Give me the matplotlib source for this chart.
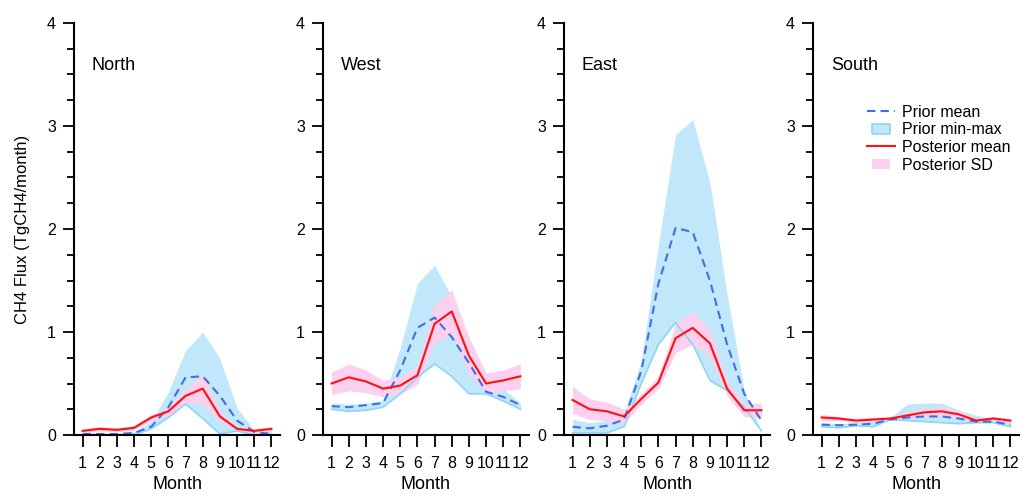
import numpy as np
import matplotlib
matplotlib.use('Agg')
import matplotlib.pyplot as plt
from matplotlib.lines import Line2D
from matplotlib.ticker import MultipleLocator

plt.rcParams['font.family'] = ['Liberation Sans', 'DejaVu Sans']

# Месяцы и регионы
months = np.arange(1, 13)
regions = ['North', 'West', 'East', 'South']

# North
north_prior_mean = [0.01, 0.01, 0.01, 0.02, 0.08, 0.27, 0.56, 0.57, 0.38, 0.14, 0.03, 0.01]
north_prior_min = [0.0, 0.0, 0.0, 0.0, 0.06, 0.17, 0.30, 0.16, 0.01, 0.04, 0.0, 0.0]
north_prior_max = [0.02, 0.02, 0.02, 0.03, 0.13, 0.42, 0.82, 1.00, 0.74, 0.26, 0.05, 0.03]
north_post_mean = [0.04, 0.06, 0.05, 0.07, 0.17, 0.23, 0.38, 0.45, 0.18, 0.06, 0.04, 0.06]
north_post_sd = [0.02, 0.02, 0.02, 0.02, 0.03, 0.04, 0.07, 0.14, 0.05, 0.02, 0.02, 0.02]

# West
west_prior_mean = [0.28, 0.27, 0.29, 0.31, 0.63, 1.04, 1.14, 0.95, 0.70, 0.42, 0.37, 0.29]
west_prior_min = [0.25, 0.23, 0.24, 0.27, 0.40, 0.56, 0.69, 0.57, 0.40, 0.40, 0.33, 0.25]
west_prior_max = [0.31, 0.30, 0.31, 0.34, 0.85, 1.47, 1.65, 1.34, 0.95, 0.59, 0.45, 0.31]
west_post_mean = [0.50, 0.56, 0.52, 0.45, 0.48, 0.58, 1.08, 1.20, 0.77, 0.50, 0.53, 0.57]
west_post_sd = [0.11, 0.13, 0.11, 0.08, 0.08, 0.09, 0.18, 0.21, 0.17, 0.10, 0.10, 0.12]

# East
east_prior_mean = [0.08, 0.065, 0.09, 0.15, 0.62, 1.47, 2.01, 1.97, 1.50, 0.88, 0.40, 0.14]
east_prior_min = [0.02, 0.02, 0.02, 0.08, 0.50, 0.88, 1.09, 0.88, 0.53, 0.43, 0.27, 0.04]
east_prior_max = [0.15, 0.12, 0.14, 0.22, 0.72, 1.85, 2.92, 3.06, 2.45, 1.37, 0.43, 0.04]
east_post_mean = [0.34, 0.25, 0.23, 0.18, 0.35, 0.51, 0.94, 1.04, 0.89, 0.45, 0.24, 0.24]
east_post_sd = [0.13, 0.10, 0.09, 0.07, 0.05, 0.06, 0.14, 0.16, 0.13, 0.07, 0.06, 0.07]

# South
south_prior_mean = [0.10, 0.095, 0.10, 0.11, 0.15, 0.17, 0.18, 0.18, 0.16, 0.13, 0.13, 0.10]
south_prior_min = [0.08, 0.07, 0.09, 0.08, 0.15, 0.14, 0.13, 0.12, 0.11, 0.12, 0.12, 0.08]
south_prior_max = [0.12, 0.11, 0.12, 0.14, 0.17, 0.30, 0.31, 0.31, 0.24, 0.19, 0.16, 0.14]
south_post_mean = [0.17, 0.16, 0.14, 0.15, 0.16, 0.19, 0.22, 0.23, 0.20, 0.14, 0.16, 0.14]
south_post_sd = [0.03, 0.02, 0.02, 0.02, 0.02, 0.03, 0.04, 0.04, 0.03, 0.02, 0.02, 0.02]

data = {
    'North': (north_prior_mean, north_prior_min, north_prior_max, north_post_mean, north_post_sd),
    'West': (west_prior_mean, west_prior_min, west_prior_max, west_post_mean, west_post_sd),
    'East': (east_prior_mean, east_prior_min, east_prior_max, east_post_mean, east_post_sd),
    'South': (south_prior_mean, south_prior_min, south_prior_max, south_post_mean, south_post_sd),
}

c_fill = '#c1e8fa'
c_edge = '#8fd4f5'
c_dash = '#3f6ee8'
c_red = '#ff1010'
c_pink = '#fcd0ee'

W, H = 1021, 494
fig = plt.figure(figsize=(W / 100, H / 100), dpi=100)

# положения осей в пикселях (левый край оси)
lefts = [74, 323, 564, 813]
bottom, top = 435, 23
width = 206

for i, name in enumerate(regions):
    p_mean, p_min, p_max, q_mean, q_sd = [np.array(v) for v in data[name]]
    ax = fig.add_axes([lefts[i] / W, 1 - bottom / H, width / W, (bottom - top) / H])

    ax.fill_between(months, p_min, p_max, color=c_fill, lw=0)
    ax.plot(months, p_min, color=c_edge, lw=1.2)
    ax.plot(months, p_mean, color=c_dash, lw=1.5, dashes=(4, 2.5))
    ax.fill_between(months, q_mean - q_sd, q_mean + q_sd, color=c_pink, lw=0)
    ax.plot(months, q_mean, color=c_red, lw=1.5)

    ax.set_xlim(0.5, 12.5)
    ax.set_ylim(0, 4)
    ax.set_xticks(months)
    ax.set_yticks([0, 1, 2, 3, 4])
    ax.yaxis.set_minor_locator(MultipleLocator(0.25))
    for s in ['top', 'right']:
        ax.spines[s].set_visible(False)
    for s in ['left', 'bottom']:
        ax.spines[s].set_linewidth(1.5)
    ax.tick_params(axis='x', which='major', length=8.5, width=1.3, labelsize=11.5, pad=6.5)
    ax.tick_params(axis='y', which='major', length=8, width=1.3, labelsize=11.5, pad=5)
    ax.tick_params(axis='y', which='minor', length=5, width=1.3)
    ax.set_xlabel('Month', fontsize=13, labelpad=4)

    ax.text(0.087, 0.898, name, transform=ax.transAxes, fontsize=13, ha='left', va='center')

    if i == 0:
        ax.set_ylabel('CH4 Flux (TgCH4/month)', fontsize=12, labelpad=12)

    if i == 3:
        box = [(-1, -0.6), (1, -0.6), (1, 0.6), (-1, 0.6), (-1, -0.6)]
        handles = [
            Line2D([], [], color=c_dash, lw=1.5, dashes=(4, 2.5)),
            Line2D([], [], ls='none', marker=box, markersize=13,
                   markerfacecolor=c_fill, markeredgecolor=c_edge, markeredgewidth=1.2),
            Line2D([], [], color=c_red, lw=1.5),
            Line2D([], [], ls='none', marker=box, markersize=13,
                   markerfacecolor=c_pink, markeredgecolor=c_pink, markeredgewidth=0),
        ]
        labels = ['Prior mean', 'Prior min-max', 'Posterior mean', 'Posterior SD']
        ax.legend(handles, labels, loc='upper left', bbox_to_anchor=(0.26, 0.802), frameon=False,
                  fontsize=11.5, handlelength=1.8, handletextpad=0.45, labelspacing=0.17,
                  borderpad=0, borderaxespad=0)

fig.savefig('out.png', dpi=100)
